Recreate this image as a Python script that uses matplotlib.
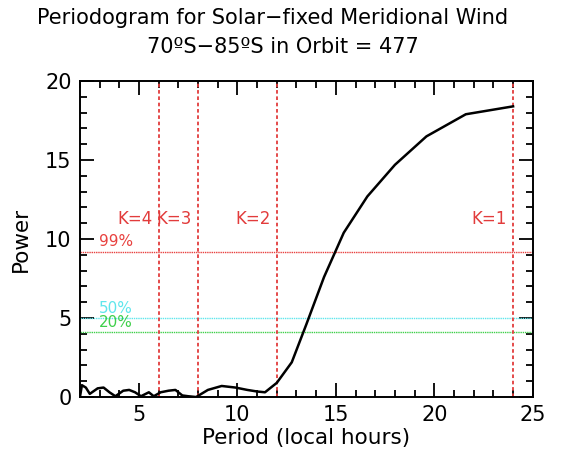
import numpy as np
import matplotlib
matplotlib.use('Agg')
import matplotlib.pyplot as plt
from matplotlib.ticker import MultipleLocator

# periodogram (period in local hours, power)
period = [2.0, 2.1, 2.3, 2.5, 2.9, 3.2, 3.5, 3.8, 4.2, 4.5, 4.8, 5.1, 5.5, 5.75,
          6.1, 6.5, 6.85, 7.2, 7.5, 7.9, 8.5, 9.2, 9.9, 10.5, 11.0, 11.4,
          12.0, 12.76, 13.5, 14.4, 15.4, 16.6, 18.0, 19.6, 21.6, 24.0]
power = [0.0, 0.75, 0.6, 0.2, 0.55, 0.6, 0.3, 0.05, 0.4, 0.45, 0.3, 0.05, 0.3, 0.05,
         0.3, 0.4, 0.45, 0.1, 0.05, 0.0, 0.45, 0.7, 0.6, 0.45, 0.35, 0.3,
         0.9, 2.2, 4.6, 7.6, 10.4, 12.7, 14.7, 16.5, 17.9, 18.4]

# significance levels
levels = [9.2, 5.0, 4.1]
level_labels = ['99%', '50%', '20%']
level_colors = ['#e8413f', '#5fe6ec', '#3fcf4a']

# harmonics of the day
k_periods = [24, 12, 8, 6]
k_labels = ['K=1', 'K=2', 'K=3', 'K=4']

red = '#e23c3c'

fig = plt.figure(figsize=(5.71, 4.66), dpi=100)
ax = fig.add_axes([0.140, 0.148, 0.793, 0.678])

for lev, lab, col in zip(levels, level_labels, level_colors):
    ax.axhline(lev, color=col, lw=1.0, ls=(0, (1, 0.6)))
    ax.text(2.95, lev + 0.15, lab, color=col, fontsize=11, va='bottom', ha='left')

for kp, lab in zip(k_periods, k_labels):
    ax.axvline(kp, color=red, lw=1.3, ls=(0, (2, 1.5)))
    ax.text(kp - 0.3, 11.3, lab, color=red, fontsize=12, ha='right', va='center')

ax.plot(period, power, color='black', lw=1.8)

ax.set_xlim(2, 25)
ax.set_ylim(0, 20)
ax.xaxis.set_major_locator(MultipleLocator(5))
ax.xaxis.set_minor_locator(MultipleLocator(1))
ax.yaxis.set_major_locator(MultipleLocator(5))
ax.yaxis.set_minor_locator(MultipleLocator(1))
ax.tick_params(which='both', direction='in', top=True, right=True, width=1.3)
ax.tick_params(which='major', length=10, labelsize=15, pad=6)
ax.tick_params(which='minor', length=5)
for s in ax.spines.values():
    s.set_linewidth(1.4)

ax.set_xlabel('Period (local hours)', fontsize=15.5, labelpad=2)
ax.set_ylabel('Power', fontsize=15.5, labelpad=10)

# two-line title, as placed in the original
fig.text(0.477, 1 - 18 / 466, 'Periodogram for Solar\u2212fixed Meridional Wind',
         fontsize=15, ha='center', va='center')
fig.text(0.496, 1 - 47 / 466, '70\u00baS\u221285\u00baS in Orbit = 477',
         fontsize=15, ha='center', va='center')

fig.savefig('out.png', dpi=100)
